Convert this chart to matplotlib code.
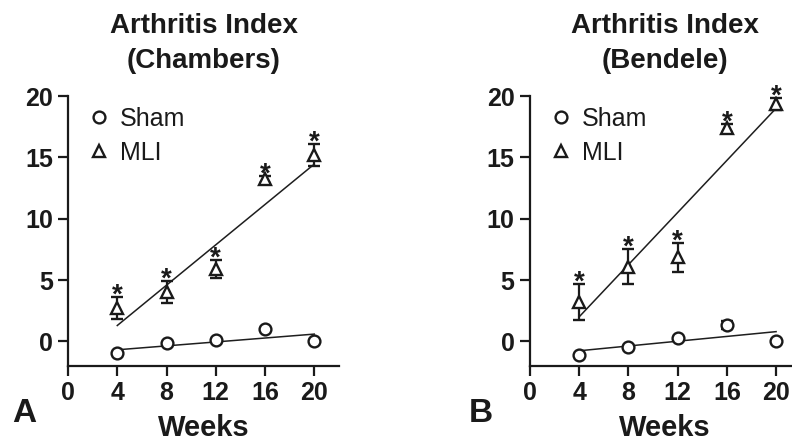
import matplotlib.pyplot as plt
from matplotlib.lines import Line2D

plt.rcParams['font.family'] = ['Liberation Sans', 'DejaVu Sans']

weeks = [4, 8, 12, 16, 20]

# Panel A (Chambers)
sham_a = [-0.95, -0.13, 0.13, 1.0, 0.05]
sham_a_err = [0.1, 0.1, 0.1, 0.1, 0.1]
mli_a = [2.7, 4.0, 5.9, 13.2, 15.2]
mli_a_err = [0.9, 0.9, 0.7, 0.3, 0.88]
fit_a_sham = [-0.68, 0.6]
fit_a_mli = [1.3, 14.45]

# Panel B (Bendele)
sham_b = [-1.1, -0.43, 0.3, 1.35, 0.0]
sham_b_err = [0.1, 0.1, 0.1, 0.35, 0.1]
mli_b = [3.2, 6.1, 6.85, 17.4, 19.35]
mli_b_err = [1.45, 1.42, 1.15, 0.3, 0.5]
fit_b_sham = [-0.76, 0.8]
fit_b_mli = [2.0, 19.0]

fit_x = [4, 20]
titles = ['Arthritis Index\n(Chambers)', 'Arthritis Index\n(Bendele)']

ink = '#1a1a1a'
fig = plt.figure(figsize=(7.92, 4.47), dpi=100)
ax_a = fig.add_axes([0.0859, 0.1812, 0.342, 0.604])
ax_b = fig.add_axes([0.669, 0.1812, 0.342, 0.604])

panels = [
    (ax_a, sham_a, sham_a_err, mli_a, mli_a_err, fit_a_sham, fit_a_mli),
    (ax_b, sham_b, sham_b_err, mli_b, mli_b_err, fit_b_sham, fit_b_mli),
]

for i, (ax, sham, sham_err, mli, mli_err, fs, fm) in enumerate(panels):
    # regression lines
    ax.plot(fit_x, fs, color='#1e1e1e', lw=1.1, zorder=2)
    ax.plot(fit_x, fm, color='#1e1e1e', lw=1.1, zorder=2)
    ax.errorbar(weeks, sham, yerr=sham_err, fmt='o', ms=8.5, mfc='white',
                mec=ink, mew=1.7, ecolor=ink, elinewidth=1.6,
                capsize=4.5, capthick=1.6, zorder=3)
    ax.errorbar(weeks, mli, yerr=mli_err, fmt='^', ms=8.5, mfc='white',
                mec=ink, mew=1.7, ecolor=ink, elinewidth=1.6,
                capsize=4.5, capthick=1.6, zorder=3)
    # significance marks
    for x, y, e in zip(weeks, mli, mli_err):
        ax.text(x, y + e - 0.45, '*', ha='center', va='baseline',
                fontsize=20, fontweight='bold', color=ink)

    ax.set_xlim(0, 22)
    ax.set_ylim(-2, 20)
    ax.set_xticks([0, 4, 8, 12, 16, 20])
    ax.set_yticks([0, 5, 10, 15, 20])
    for s in ['top', 'right']:
        ax.spines[s].set_visible(False)
    for s in ['left', 'bottom']:
        ax.spines[s].set_linewidth(1.6)
        ax.spines[s].set_color(ink)
    ax.tick_params(direction='out', length=7, width=1.6, color=ink,
                   labelsize=18, pad=4)
    for lab in ax.get_xticklabels() + ax.get_yticklabels():
        lab.set_fontweight('bold')
        lab.set_color(ink)
    ax.set_xlabel('Weeks', fontsize=21, fontweight='bold', color=ink,
                  labelpad=6)
    ax.set_title(titles[i], fontsize=20, fontweight='bold', color=ink,
                 pad=20, linespacing=1.45)
    handles = [
        Line2D([], [], ls='none', marker='o', ms=8.5, mfc='white', mec=ink, mew=1.7),
        Line2D([], [], ls='none', marker='^', ms=8.5, mfc='white', mec=ink, mew=1.7),
    ]
    leg = ax.legend(handles, ['Sham', 'MLI'], loc='upper left',
                    bbox_to_anchor=(0.04, 0.998), frameon=False, fontsize=18,
                    handlelength=0.8, handletextpad=0.45, labelspacing=0.42,
                    borderaxespad=0)
    for t in leg.get_texts():
        t.set_color(ink)

fig.text(0.015, 0.055, 'A', fontsize=24, fontweight='bold', color=ink)
fig.text(0.592, 0.055, 'B', fontsize=24, fontweight='bold', color=ink)

fig.savefig('out.png', dpi=100)
